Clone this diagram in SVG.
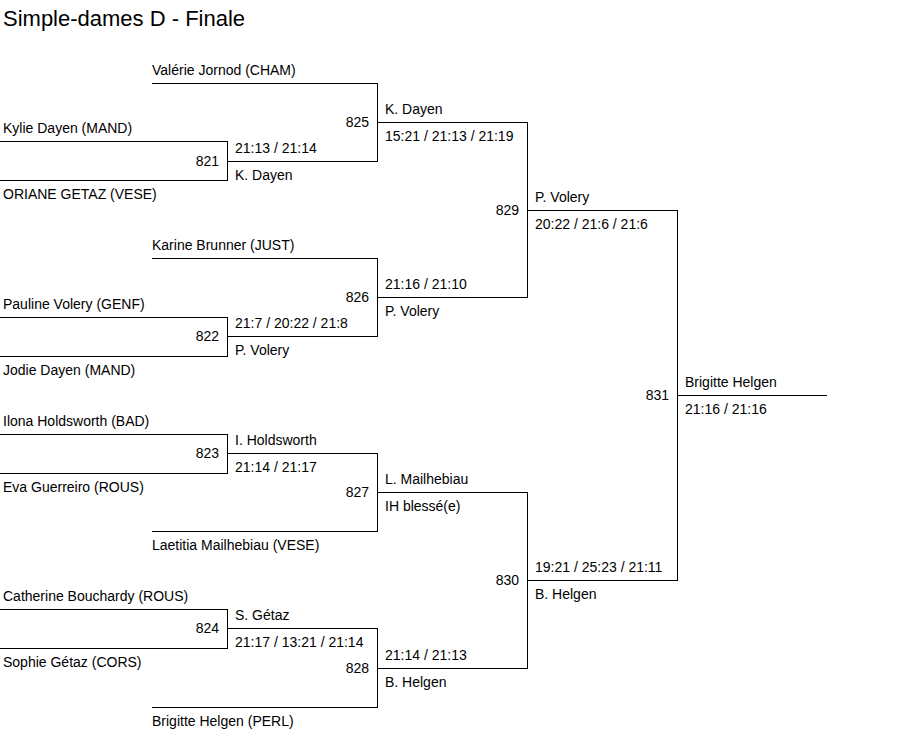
<svg xmlns="http://www.w3.org/2000/svg" width="903" height="738" viewBox="0 0 903 738">
<style>
text{font-family:"Liberation Sans",Arial,sans-serif;font-size:14px;fill:#000}
.title{font-size:22px}
.num{text-anchor:end}
.ln{fill:none;stroke:#000;stroke-width:1;shape-rendering:crispEdges}
</style>
<rect width="903" height="738" fill="#fff"/>
<text class="title" x="3" y="26">Simple-dames D - Finale</text>

<g id="players">
<g id="p-jornod"><path class="ln" d="M152 83.5H377"/><text x="152" y="75">Valérie Jornod (CHAM)</text></g>
<g id="p-kdayen"><path class="ln" d="M0 141.5H227"/><text x="3" y="133">Kylie Dayen (MAND)</text></g>
<g id="p-ogetaz"><path class="ln" d="M0 180.5H227"/><text x="3" y="199">ORIANE GETAZ (VESE)</text></g>
<g id="p-brunner"><path class="ln" d="M152 258.5H377"/><text x="152" y="250">Karine Brunner (JUST)</text></g>
<g id="p-pvolery"><path class="ln" d="M0 317.5H227"/><text x="3" y="309">Pauline Volery (GENF)</text></g>
<g id="p-jdayen"><path class="ln" d="M0 356.5H227"/><text x="3" y="375">Jodie Dayen (MAND)</text></g>
<g id="p-holdsworth"><path class="ln" d="M0 434.5H227"/><text x="3" y="426">Ilona Holdsworth (BAD)</text></g>
<g id="p-guerreiro"><path class="ln" d="M0 473.5H227"/><text x="3" y="492">Eva Guerreiro (ROUS)</text></g>
<g id="p-mailhebiau"><path class="ln" d="M152 531.5H377"/><text x="152" y="550">Laetitia Mailhebiau (VESE)</text></g>
<g id="p-bouchardy"><path class="ln" d="M0 609.5H227"/><text x="3" y="601">Catherine Bouchardy (ROUS)</text></g>
<g id="p-sgetaz"><path class="ln" d="M0 648.5H227"/><text x="3" y="667">Sophie Gétaz (CORS)</text></g>
<g id="p-helgen"><path class="ln" d="M152 707.5H377"/><text x="152" y="726">Brigitte Helgen (PERL)</text></g>
</g>

<g id="connectors">
<path class="ln" d="M227.5 141V181M227 161.5H377"/>
<path class="ln" d="M377.5 83V162M377 122.5H527"/>
<path class="ln" d="M227.5 317V357M227 336.5H377"/>
<path class="ln" d="M377.5 258V337M377 297.5H527"/>
<path class="ln" d="M527.5 122V298M527 210.5H677"/>
<path class="ln" d="M227.5 434V474M227 453.5H377"/>
<path class="ln" d="M377.5 453V532M377 492.5H527"/>
<path class="ln" d="M227.5 609V649M227 628.5H377"/>
<path class="ln" d="M377.5 628V708M377 668.5H527"/>
<path class="ln" d="M527.5 492V669M527 580.5H677"/>
<path class="ln" d="M677.5 210V581M677 395.5H827"/>
</g>

<g id="m821"><text class="num" x="219" y="166">821</text><text x="235" y="153">21:13 / 21:14</text><text x="235" y="180">K. Dayen</text></g>
<g id="m825"><text class="num" x="369" y="127">825</text><text x="385" y="114">K. Dayen</text><text x="385" y="141">15:21 / 21:13 / 21:19</text></g>
<g id="m822"><text class="num" x="219" y="341">822</text><text x="235" y="328">21:7 / 20:22 / 21:8</text><text x="235" y="355">P. Volery</text></g>
<g id="m826"><text class="num" x="369" y="302">826</text><text x="385" y="289">21:16 / 21:10</text><text x="385" y="316">P. Volery</text></g>
<g id="m829"><text class="num" x="519" y="215">829</text><text x="535" y="202">P. Volery</text><text x="535" y="229">20:22 / 21:6 / 21:6</text></g>
<g id="m823"><text class="num" x="219" y="458">823</text><text x="235" y="445">I. Holdsworth</text><text x="235" y="472">21:14 / 21:17</text></g>
<g id="m827"><text class="num" x="369" y="497">827</text><text x="385" y="484">L. Mailhebiau</text><text x="385" y="511">IH blessé(e)</text></g>
<g id="m824"><text class="num" x="219" y="633">824</text><text x="235" y="620">S. Gétaz</text><text x="235" y="647">21:17 / 13:21 / 21:14</text></g>
<g id="m828"><text class="num" x="369" y="673">828</text><text x="385" y="660">21:14 / 21:13</text><text x="385" y="687">B. Helgen</text></g>
<g id="m830"><text class="num" x="519" y="585">830</text><text x="535" y="572">19:21 / 25:23 / 21:11</text><text x="535" y="599">B. Helgen</text></g>
<g id="m831"><text class="num" x="669" y="400">831</text><text x="685" y="387">Brigitte Helgen</text><text x="685" y="414">21:16 / 21:16</text></g>
</svg>
